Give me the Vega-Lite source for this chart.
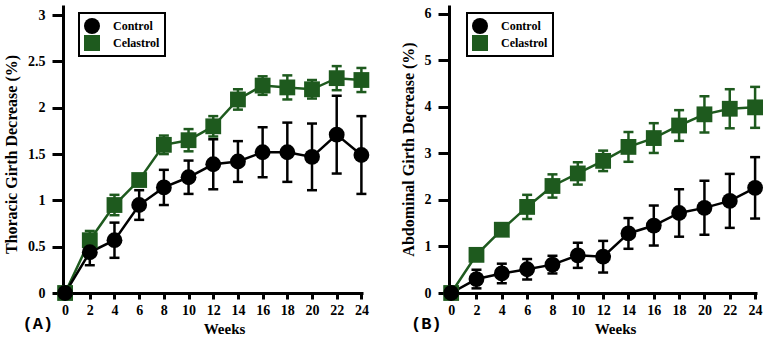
{
  "$schema": "https://vega.github.io/schema/vega-lite/v6.json",
  "background": "white",
  "padding": {"left": 3, "top": 5, "right": 5, "bottom": 2},
  "spacing": 86,
  "bounds": "flush",
  "config": {
    "view": {"stroke": null},
    "font": "'Liberation Serif', 'Times New Roman', serif",
    "axis": {
      "grid": false,
      "domainColor": "black",
      "domainWidth": 3,
      "tickColor": "black",
      "tickWidth": 3,
      "labelFont": "'Liberation Serif', 'Times New Roman', serif",
      "labelFontWeight": "bold",
      "labelFontSize": 14,
      "labelColor": "black",
      "titleFont": "'Liberation Serif', 'Times New Roman', serif",
      "titleFontWeight": "bold",
      "titleColor": "black"
    },
    "axisX": {"tickSize": 6, "labelPadding": 4, "labelAngle": 0, "titleFontSize": 15, "titlePadding": 4},
    "axisY": {"tickSize": 11, "labelPadding": 7, "titleFontSize": 16, "titlePadding": 8},
    "legend": {
      "orient": "none",
      "title": null,
      "strokeColor": "black",
      "strokeWidth": 2,
      "padding": 5,
      "rowPadding": 1,
      "labelFont": "'Liberation Serif', 'Times New Roman', serif",
      "labelFontWeight": "bold",
      "labelFontSize": 12,
      "labelColor": "black",
      "labelOffset": 13,
      "symbolSize": 256,
      "symbolStrokeWidth": 0,
      "symbolOpacity": 1
    },
    "title": {
      "orient": "bottom",
      "anchor": "start",
      "frame": "bounds",
      "font": "'Liberation Mono', 'Courier New', monospace",
      "fontWeight": "bold",
      "fontSize": 17,
      "color": "black",
      "offset": -20
    }
  },
  "datasets": {
    "thoracic": [
      {"week": 0, "group": "Celastrol", "mean": 0, "sem": 0},
      {"week": 2, "group": "Celastrol", "mean": 0.57, "sem": 0.1},
      {"week": 4, "group": "Celastrol", "mean": 0.95, "sem": 0.11},
      {"week": 6, "group": "Celastrol", "mean": 1.22, "sem": 0.06},
      {"week": 8, "group": "Celastrol", "mean": 1.6, "sem": 0.1},
      {"week": 10, "group": "Celastrol", "mean": 1.65, "sem": 0.12},
      {"week": 12, "group": "Celastrol", "mean": 1.8, "sem": 0.11},
      {"week": 14, "group": "Celastrol", "mean": 2.09, "sem": 0.11},
      {"week": 16, "group": "Celastrol", "mean": 2.24, "sem": 0.1},
      {"week": 18, "group": "Celastrol", "mean": 2.22, "sem": 0.13},
      {"week": 20, "group": "Celastrol", "mean": 2.2, "sem": 0.1},
      {"week": 22, "group": "Celastrol", "mean": 2.32, "sem": 0.13},
      {"week": 24, "group": "Celastrol", "mean": 2.3, "sem": 0.13},
      {"week": 0, "group": "Control", "mean": 0, "sem": 0},
      {"week": 2, "group": "Control", "mean": 0.44, "sem": 0.14},
      {"week": 4, "group": "Control", "mean": 0.57, "sem": 0.19},
      {"week": 6, "group": "Control", "mean": 0.95, "sem": 0.16},
      {"week": 8, "group": "Control", "mean": 1.14, "sem": 0.19},
      {"week": 10, "group": "Control", "mean": 1.25, "sem": 0.18},
      {"week": 12, "group": "Control", "mean": 1.39, "sem": 0.27},
      {"week": 14, "group": "Control", "mean": 1.42, "sem": 0.22},
      {"week": 16, "group": "Control", "mean": 1.52, "sem": 0.27},
      {"week": 18, "group": "Control", "mean": 1.52, "sem": 0.32},
      {"week": 20, "group": "Control", "mean": 1.47, "sem": 0.36},
      {"week": 22, "group": "Control", "mean": 1.71, "sem": 0.42},
      {"week": 24, "group": "Control", "mean": 1.49, "sem": 0.42}
    ],
    "abdominal": [
      {"week": 0, "group": "Celastrol", "mean": 0, "sem": 0},
      {"week": 2, "group": "Celastrol", "mean": 0.82, "sem": 0.04},
      {"week": 4, "group": "Celastrol", "mean": 1.36, "sem": 0.05},
      {"week": 6, "group": "Celastrol", "mean": 1.85, "sem": 0.26},
      {"week": 8, "group": "Celastrol", "mean": 2.3, "sem": 0.25},
      {"week": 10, "group": "Celastrol", "mean": 2.57, "sem": 0.24},
      {"week": 12, "group": "Celastrol", "mean": 2.84, "sem": 0.22},
      {"week": 14, "group": "Celastrol", "mean": 3.14, "sem": 0.32},
      {"week": 16, "group": "Celastrol", "mean": 3.33, "sem": 0.32},
      {"week": 18, "group": "Celastrol", "mean": 3.6, "sem": 0.33},
      {"week": 20, "group": "Celastrol", "mean": 3.84, "sem": 0.39},
      {"week": 22, "group": "Celastrol", "mean": 3.96, "sem": 0.42},
      {"week": 24, "group": "Celastrol", "mean": 3.99, "sem": 0.44},
      {"week": 0, "group": "Control", "mean": 0, "sem": 0},
      {"week": 2, "group": "Control", "mean": 0.3, "sem": 0.2},
      {"week": 4, "group": "Control", "mean": 0.42, "sem": 0.21},
      {"week": 6, "group": "Control", "mean": 0.51, "sem": 0.22},
      {"week": 8, "group": "Control", "mean": 0.61, "sem": 0.19},
      {"week": 10, "group": "Control", "mean": 0.81, "sem": 0.27},
      {"week": 12, "group": "Control", "mean": 0.78, "sem": 0.34},
      {"week": 14, "group": "Control", "mean": 1.28, "sem": 0.33},
      {"week": 16, "group": "Control", "mean": 1.45, "sem": 0.43},
      {"week": 18, "group": "Control", "mean": 1.72, "sem": 0.51},
      {"week": 20, "group": "Control", "mean": 1.83, "sem": 0.58},
      {"week": 22, "group": "Control", "mean": 1.98, "sem": 0.58},
      {"week": 24, "group": "Control", "mean": 2.26, "sem": 0.66}
    ]
  },
  "hconcat": [
    {
      "width": 300,
      "height": 288,
      "data": {"name": "thoracic"},
      "title": {"text": "(A)", "dx": 19},
      "encoding": {
        "x": {
          "field": "week", "type": "quantitative",
          "scale": {"domain": [-0.17, 24.13], "nice": false, "zero": false},
          "axis": {"values": [0, 2, 4, 6, 8, 10, 12, 14, 16, 18, 20, 22, 24], "title": "Weeks", "titleX": 161}
        },
        "y": {
          "field": "mean", "type": "quantitative",
          "scale": {"domain": [0, 3.11], "nice": false},
          "axis": {"values": [0, 0.5, 1, 1.5, 2, 2.5, 3], "format": "~g", "title": "Thoracic Girth Decrease (%)", "titleY": 149}
        },
        "color": {
          "field": "group", "type": "nominal",
          "scale": {"domain": ["Control", "Celastrol"], "range": ["#000000", "#1e5a1e"]},
          "legend": {"legendX": 16, "legendY": 8}
        }
      },
      "layer": [
        {
          "mark": {"type": "errorbar", "ticks": {"size": 10, "thickness": 2.5, "opacity": 1}, "rule": {"strokeWidth": 2.5, "opacity": 1}},
          "encoding": {"yError": {"field": "sem"}}
        },
        {"mark": {"type": "line", "strokeWidth": 2.5}},
        {
          "mark": {"type": "point", "filled": true, "size": 250, "opacity": 1},
          "encoding": {
            "shape": {
              "field": "group", "type": "nominal",
              "scale": {"domain": ["Control", "Celastrol"], "range": ["circle", "square"]},
              "legend": {"legendX": 16, "legendY": 8}
            }
          }
        }
      ]
    },
    {
      "width": 308,
      "height": 288,
      "data": {"name": "abdominal"},
      "title": {"text": "(B)", "dx": 11},
      "encoding": {
        "x": {
          "field": "week", "type": "quantitative",
          "scale": {"domain": [-0.17, 24.15], "nice": false, "zero": false},
          "axis": {"values": [0, 2, 4, 6, 8, 10, 12, 14, 16, 18, 20, 22, 24], "title": "Weeks", "titleX": 166}
        },
        "y": {
          "field": "mean", "type": "quantitative",
          "scale": {"domain": [0, 6.19], "nice": false},
          "axis": {"values": [0, 1, 2, 3, 4, 5, 6], "format": "~g", "title": "Abdominal Girth Decrease (%)"}
        },
        "color": {
          "field": "group", "type": "nominal",
          "scale": {"domain": ["Control", "Celastrol"], "range": ["#000000", "#1e5a1e"]},
          "legend": {"legendX": 18, "legendY": 8}
        }
      },
      "layer": [
        {
          "mark": {"type": "errorbar", "ticks": {"size": 10, "thickness": 2.5, "opacity": 1}, "rule": {"strokeWidth": 2.5, "opacity": 1}},
          "encoding": {"yError": {"field": "sem"}}
        },
        {"mark": {"type": "line", "strokeWidth": 2.5}},
        {
          "mark": {"type": "point", "filled": true, "size": 250, "opacity": 1},
          "encoding": {
            "shape": {
              "field": "group", "type": "nominal",
              "scale": {"domain": ["Control", "Celastrol"], "range": ["circle", "square"]},
              "legend": {"legendX": 18, "legendY": 8}
            }
          }
        }
      ]
    }
  ],
  "resolve": {
    "scale": {"y": "independent", "x": "independent"},
    "legend": {"color": "independent", "shape": "independent"}
  }
}
